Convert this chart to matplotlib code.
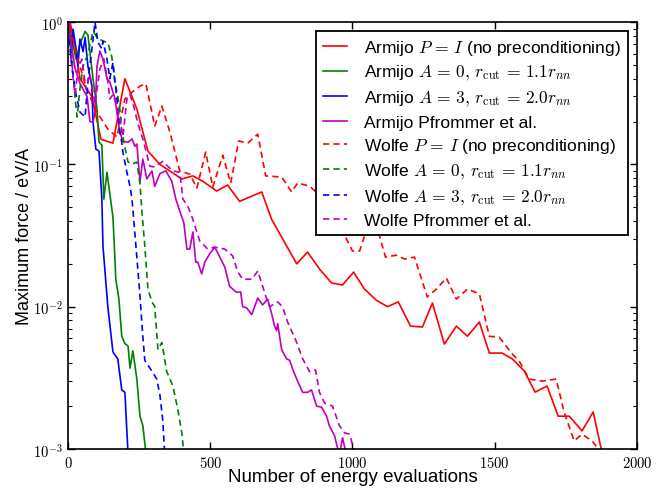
import matplotlib
matplotlib.use("Agg")
import matplotlib.pyplot as plt
from matplotlib.ticker import FuncFormatter, NullFormatter, LogLocator
import numpy as np

plt.rcParams['font.family'] = ['Liberation Sans', 'DejaVu Sans']
plt.rcParams['mathtext.fontset'] = 'cm'
plt.rcParams['lines.scale_dashes'] = False

# Armijo line search
armijo_id_x = [7, 25, 42, 84, 116, 158, 200, 242, 281, 323, 400, 439, 474, 523, 561, 603, 681, 716,
               804, 842, 884, 926, 965, 1004, 1042, 1084, 1123, 1161, 1204, 1246, 1281, 1323, 1365,
               1404, 1446, 1481, 1526, 1562, 1604, 1642, 1684, 1723, 1762, 1807, 1846, 1885]
armijo_id_f = [1.0, 0.70, 0.40, 0.30, 0.15, 0.141, 0.40, 0.245, 0.124, 0.10, 0.079, 0.083, 0.076,
               0.065, 0.0716, 0.055, 0.064, 0.041, 0.020, 0.0242, 0.0184, 0.0147, 0.0142, 0.0175,
               0.0133, 0.0111, 0.010, 0.0108, 0.0073, 0.0072, 0.0106, 0.00546, 0.0073, 0.0062,
               0.0078, 0.00472, 0.00472, 0.00429, 0.00353, 0.00251, 0.00277, 0.0017, 0.0017,
               0.00134, 0.00182, 0.0008]

armijo_a0_x = [7, 28, 42, 60, 70, 88, 102, 109, 119, 126, 137, 151, 158, 165, 168, 179, 189, 200,
               211, 218, 228, 242, 253, 263, 274]
armijo_a0_f = [0.89, 0.55, 0.70, 0.86, 0.81, 0.40, 0.245, 0.143, 0.137, 0.057, 0.088, 0.054,
               0.0426, 0.0216, 0.0156, 0.0113, 0.0062, 0.0055, 0.0053, 0.0037, 0.0049, 0.0031,
               0.0017, 0.00146, 0.00093]

armijo_a3_x = [4, 11, 18, 28, 35, 42, 53, 60, 70, 84, 88, 98, 109, 119, 123, 140, 158, 175, 189,
               200, 211]
armijo_a3_f = [0.97, 0.55, 0.89, 0.65, 0.49, 0.76, 0.62, 0.78, 0.49, 0.355, 0.198, 0.128, 0.124,
               0.057, 0.0265, 0.010, 0.0048, 0.0043, 0.0026, 0.0025, 0.00093]

armijo_pf_x = [4, 14, 25, 42, 67, 77, 88, 95, 102, 112, 123, 137, 147, 165, 182, 193, 211, 225,
               235, 242, 253, 263, 277, 295, 305, 323, 344, 365, 379, 393, 407, 418, 428, 439, 449,
               456, 470, 481, 498, 516, 551, 568, 593, 607, 614, 628, 646, 667, 684, 702, 716, 726,
               733, 737, 751, 768, 779, 793, 807, 825, 842, 856, 874, 891, 909, 919, 937, 954, 965,
               979]
armijo_pf_f = [0.97, 0.65, 0.47, 0.37, 0.30, 0.20, 0.198, 0.233, 0.49, 0.625, 0.55, 0.40, 0.38,
               0.29, 0.169, 0.146, 0.143, 0.151, 0.134, 0.139, 0.075, 0.109, 0.079, 0.090, 0.070,
               0.086, 0.090, 0.076, 0.057, 0.047, 0.039, 0.0254, 0.0254, 0.0335, 0.0205, 0.0206,
               0.0170, 0.0206, 0.0235, 0.0262, 0.0190, 0.0139, 0.0126, 0.0127, 0.010, 0.0098,
               0.0088, 0.0115, 0.0103, 0.0113, 0.0089, 0.0073, 0.0068, 0.0076, 0.0050, 0.0043,
               0.0042, 0.0035, 0.0030, 0.0025, 0.0025, 0.0026, 0.0020, 0.00197, 0.0017, 0.00145,
               0.00124, 0.0009, 0.0012, 0.0009]

# Wolfe line search
wolfe_id_x = [7, 35, 60, 95, 140, 172, 200, 225, 253, 274, 305, 330, 358, 393, 428, 453, 484, 509,
              544, 572, 600, 632, 667, 695, 751, 786, 807, 849, 919, 979, 1000, 1025, 1042, 1067,
              1095, 1116, 1154, 1183, 1218, 1263, 1295, 1330, 1365, 1404, 1446, 1481, 1516, 1562,
              1586, 1621, 1667, 1716, 1744, 1779, 1807, 1842, 1877]
wolfe_id_f = [0.92, 0.55, 0.367, 0.245, 0.177, 0.156, 0.288, 0.322, 0.355, 0.367, 0.186, 0.257,
              0.169, 0.0897, 0.0855, 0.0682, 0.122, 0.0693, 0.116, 0.0739, 0.146, 0.141, 0.163,
              0.083, 0.0815, 0.064, 0.0739, 0.0704, 0.0526, 0.0299, 0.0246, 0.0246, 0.0313,
              0.0381, 0.0313, 0.0223, 0.0230, 0.0216, 0.0223, 0.0117, 0.0133, 0.0159, 0.0113,
              0.0133, 0.0123, 0.0062, 0.0061, 0.00464, 0.00415, 0.0031, 0.0030, 0.0031, 0.00182,
              0.00114, 0.00127, 0.00114, 0.00093]

wolfe_a0_x = [4, 14, 25, 32, 42, 53, 70, 88, 102, 123, 140, 154, 165, 175, 182, 189, 200, 211,
              225, 242, 253, 260, 270, 281, 295, 305, 316, 330, 347, 368, 386, 400, 407]
wolfe_a0_f = [0.89, 0.55, 0.29, 0.215, 0.34, 0.49, 0.596, 0.865, 0.78, 0.735, 0.72, 0.57, 0.38,
              0.30, 0.245, 0.169, 0.132, 0.104, 0.100, 0.104, 0.073, 0.046, 0.0267, 0.0133,
              0.0108, 0.010, 0.0050, 0.0056, 0.0035, 0.0028, 0.0019, 0.0013, 0.00095]

wolfe_a3_x = [4, 14, 28, 42, 60, 70, 84, 95, 105, 119, 123, 137, 147, 158, 165, 172, 182, 189,
              193, 207, 218, 225, 242, 253, 263, 270, 288, 312, 323, 333, 340]
wolfe_a3_f = [0.76, 0.47, 0.31, 0.233, 0.215, 0.38, 0.65, 1.0, 0.72, 0.65, 0.735, 0.55, 0.40,
              0.52, 0.38, 0.29, 0.169, 0.143, 0.122, 0.088, 0.070, 0.057, 0.0223, 0.0119,
              0.0062, 0.0042, 0.0037, 0.0031, 0.0024, 0.0016, 0.00093]

wolfe_pf_x = [4, 11, 18, 25, 35, 49, 63, 77, 95, 112, 126, 140, 147, 158, 172, 182, 193, 207, 218,
              232, 246, 263, 288, 305, 333, 368, 393, 404, 421, 439, 463, 491, 516, 551, 579, 597,
              614, 646, 667, 684, 698, 709, 737, 754, 772, 804, 825, 849, 870, 884, 902, 930, 954,
              972, 990, 1007]
wolfe_pf_f = [1.0, 0.65, 0.40, 0.31, 0.47, 0.55, 0.338, 0.43, 0.265, 0.467, 0.55, 0.38, 0.288,
              0.31, 0.257, 0.208, 0.156, 0.288, 0.31, 0.252, 0.192, 0.151, 0.097, 0.096, 0.105,
              0.090, 0.088, 0.057, 0.051, 0.041, 0.029, 0.0254, 0.0262, 0.0254, 0.0227, 0.0175,
              0.0156, 0.0156, 0.0178, 0.014, 0.0113, 0.010, 0.0108, 0.010, 0.0078, 0.0056,
              0.0043, 0.0035, 0.0036, 0.0025, 0.0021, 0.0020, 0.00146, 0.0013, 0.00127, 0.00095]

labels = [r'Armijo $P\,=\,I$ (no preconditioning)',
          r'Armijo $A\,=\,0,\,r_{\rm cut}\,=\,1.1r_{nn}$',
          r'Armijo $A\,=\,3,\,r_{\rm cut}\,=\,2.0r_{nn}$',
          'Armijo Pfrommer et al.',
          r'Wolfe $P\,=\,I$ (no preconditioning)',
          r'Wolfe $A\,=\,0,\,r_{\rm cut}\,=\,1.1r_{nn}$',
          r'Wolfe $A\,=\,3,\,r_{\rm cut}\,=\,2.0r_{nn}$',
          'Wolfe Pfrommer et al.']

colors = ['#ff0000', '#008000', '#0000ff', '#bf00bf']

fig = plt.figure(figsize=(6.57, 4.89), dpi=100)
ax = fig.add_axes([0.1035, 0.0798, 0.866, 0.873])

armijo = [(armijo_id_x, armijo_id_f), (armijo_a0_x, armijo_a0_f),
          (armijo_a3_x, armijo_a3_f), (armijo_pf_x, armijo_pf_f)]
wolfe = [(wolfe_id_x, wolfe_id_f), (wolfe_a0_x, wolfe_a0_f),
         (wolfe_a3_x, wolfe_a3_f), (wolfe_pf_x, wolfe_pf_f)]

for i, (x, f) in enumerate(armijo):
    ax.semilogy(x, f, color=colors[i], linestyle='-', linewidth=1.2, label=labels[i])
for i, (x, f) in enumerate(wolfe):
    ax.semilogy(x, f, color=colors[i], linestyle=(0, (4.5, 3)), linewidth=1.2,
                label=labels[4 + i])

ax.set_xlim(0, 2000)
ax.set_ylim(1e-3, 1)
ax.set_xticks([0, 500, 1000, 1500, 2000])
ax.xaxis.set_major_formatter(FuncFormatter(lambda v, p: r'$%d$' % v))
ax.yaxis.set_major_locator(LogLocator(base=10, numticks=10))
ax.yaxis.set_major_formatter(FuncFormatter(lambda v, p: r'$10^{%d}$' % round(np.log10(v))))
ax.yaxis.set_minor_formatter(NullFormatter())
ax.tick_params(which='both', direction='in', top=True, right=True, labelsize=10.5, pad=4)
ax.tick_params(which='major', length=5, width=1)
ax.tick_params(which='minor', length=3, width=0.8)
for s in ax.spines.values():
    s.set_linewidth(1.2)

ax.set_xlabel('Number of energy evaluations', fontsize=13.5, labelpad=-1)
ax.set_ylabel('Maximum force / eV/A', fontsize=13)
ax.yaxis.set_label_coords(-0.062, 0.5)

leg = ax.legend(loc='upper right', fontsize=12.5, fancybox=False, framealpha=1,
                edgecolor='black', handlelength=1.4, handletextpad=1.0,
                borderaxespad=0.5, labelspacing=0.38)
leg.get_frame().set_linewidth(1.3)

fig.savefig('out.png', dpi=100)
